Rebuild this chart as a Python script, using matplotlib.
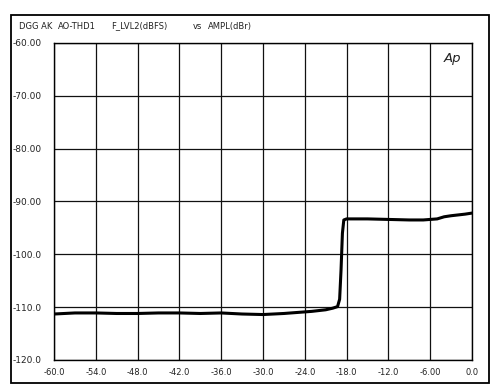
import matplotlib
matplotlib.use("Agg")
import matplotlib.pyplot as plt
from matplotlib.patches import Rectangle

# valores (AMPL dBr -> F_LVL2 dBFS)
ampl = [-60, -57, -54, -51, -48, -45, -42, -39, -36, -33, -30, -27, -25, -23,
        -21, -20, -19.3, -19.0, -18.8, -18.6, -18.4, -18.0, -15, -12, -9, -7,
        -5, -4, -3, -1, 0]
nivel = [-111.3, -111.1, -111.1, -111.2, -111.2, -111.1, -111.1, -111.2,
         -111.1, -111.3, -111.4, -111.2, -111.0, -110.8, -110.5, -110.2,
         -109.9, -108.5, -103.0, -96.0, -93.5, -93.3, -93.3, -93.4, -93.5,
         -93.5, -93.3, -92.9, -92.7, -92.4, -92.2]

xticks = [-60, -54, -48, -42, -36, -30, -24, -18, -12, -6, 0]
xlabels = ['-60.0', '-54.0', '-48.0', '-42.0', '-36.0', '-30.0', '-24.0',
           '-18.0', '-12.0', '-6.00', '0.0']
yticks = [-60, -70, -80, -90, -100, -110, -120]
ylabels = ['-60.00', '-70.00', '-80.00', '-90.00', '-100.0', '-110.0', '-120.0']

fig = plt.figure(figsize=(5, 3.89), dpi=100)
ax = fig.add_axes([0.108, 0.0746, 0.836, 0.815])

ax.plot(ampl, nivel, color='black', lw=2.2, solid_joinstyle='round')

ax.set_xlim(-60, 0)
ax.set_ylim(-120, -60)
ax.set_xticks(xticks)
ax.set_xticklabels(xlabels, fontsize=6)
ax.set_yticks(yticks)
ax.set_yticklabels(ylabels, fontsize=6.5)
for lb in ax.get_yticklabels():
    lb.set_horizontalalignment('left')
ax.tick_params(axis='both', length=0, colors='#222222')
ax.tick_params(axis='y', pad=30)
ax.tick_params(axis='x', pad=6)
ax.grid(True, color='#111111', lw=0.9)
for s in ax.spines.values():
    s.set_linewidth(1.0)

# cabeçalho
fig.text(0.038, 0.933, 'DGG AK', fontsize=6, color='#222222', va='center')
fig.text(0.116, 0.933, 'AO-THD1', fontsize=6, color='#222222', va='center')
fig.text(0.222, 0.933, 'F_LVL2(dBFS)', fontsize=6, color='#222222', va='center')
fig.text(0.385, 0.933, 'vs', fontsize=6, color='#222222', va='center')
fig.text(0.416, 0.933, 'AMPL(dBr)', fontsize=6, color='#222222', va='center')

# logo "Ap"
ax.text(0.975, 0.97, 'Ap', transform=ax.transAxes, fontsize=9.5, style='italic',
        ha='right', va='top', color='#222222')

# moldura externa
fig.patches.append(Rectangle((0.022, 0.0154), 0.956, 0.9456, transform=fig.transFigure,
                             fill=False, lw=1.3, edgecolor='black'))

fig.savefig('out.png', dpi=100)
